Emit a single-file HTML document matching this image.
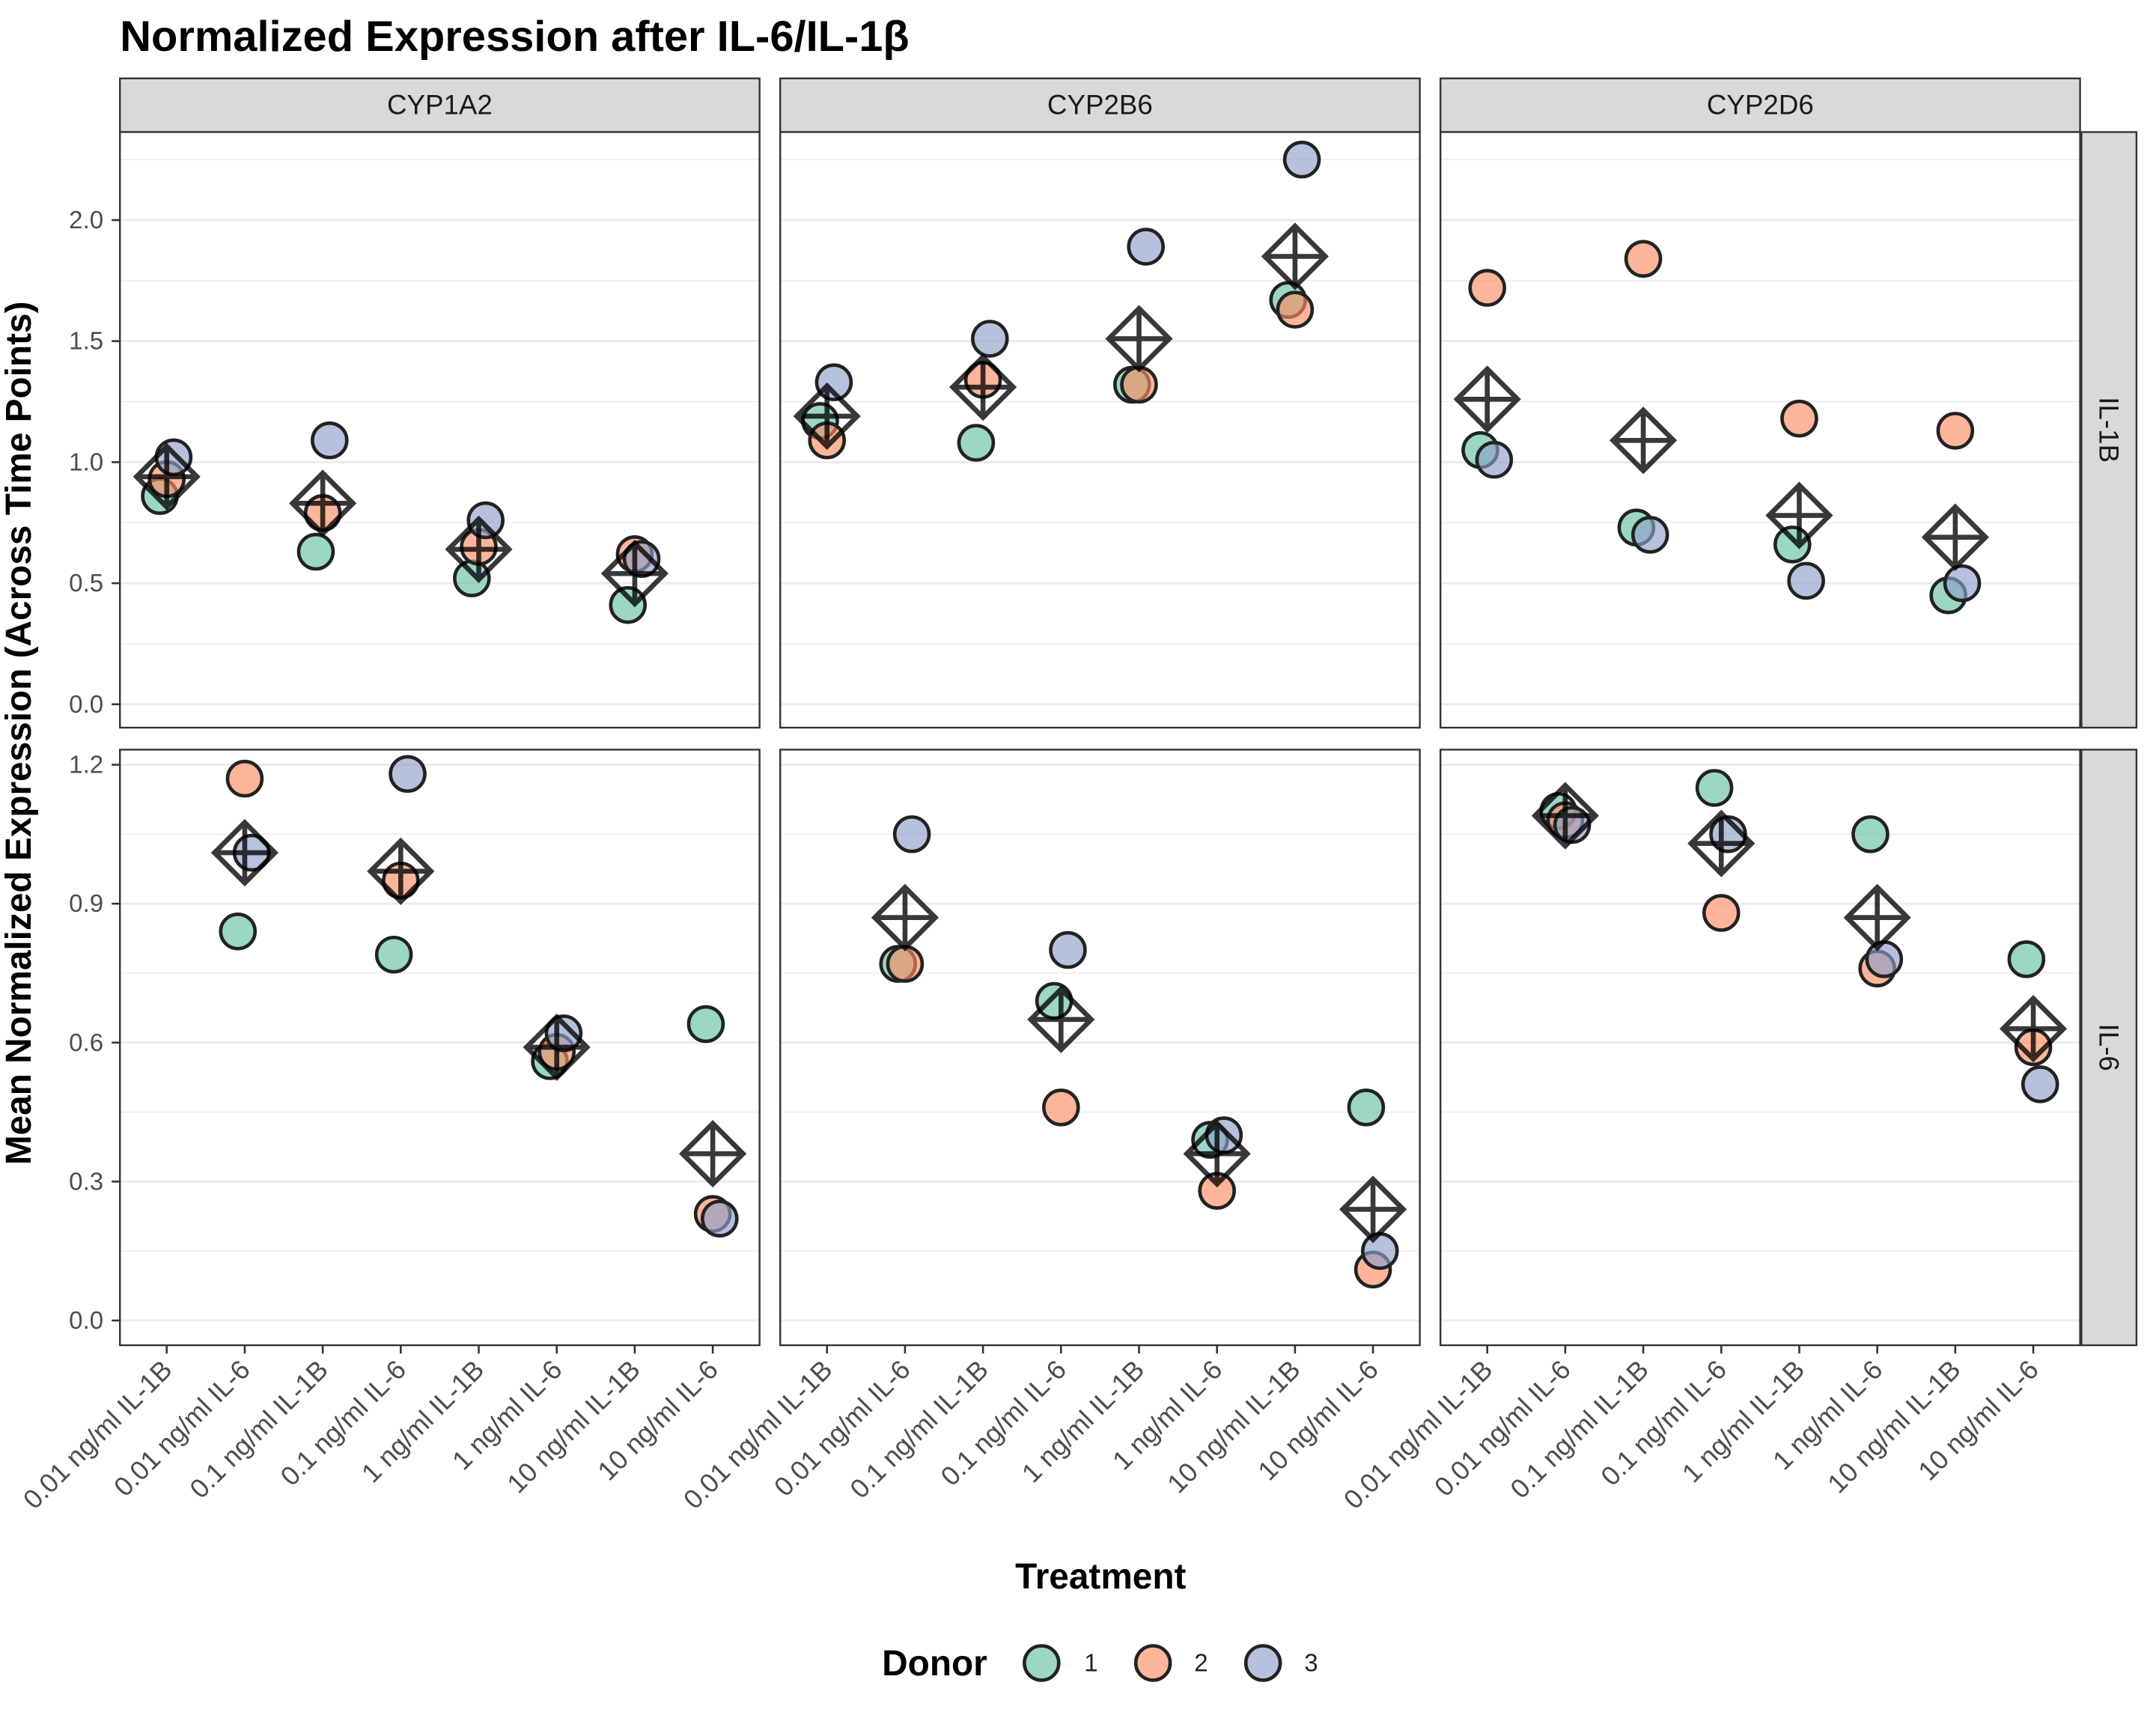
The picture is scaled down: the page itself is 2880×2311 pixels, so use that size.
<!DOCTYPE html>
<html><head><meta charset="utf-8"><style>
html,body{margin:0;padding:0;background:#fff}
svg text{font-family:"Liberation Sans",Arial,sans-serif}
</style></head><body>
<svg id="chart" width="2880" height="2306" viewBox="0 0 1567 1255" xmlns="http://www.w3.org/2000/svg">
<text x="87" y="37" font-size="31.5" font-weight="bold" fill="#000">Normalized Expression after IL-6/IL-1β</text>
<g id="panels"></g>
<text x="800" y="1155" font-size="26" font-weight="bold" text-anchor="middle">Treatment</text>
<text transform="translate(22,533) rotate(-90)" font-size="26" font-weight="bold" text-anchor="middle">Mean Normalized Expression (Across Time Points)</text>
<g>
<text x="641" y="1218" font-size="26" font-weight="bold">Donor</text>
<circle cx="757" cy="1209" r="12.5" fill="#66c2a5" fill-opacity="0.65" stroke="#222" stroke-width="2.5"/>
<text x="788" y="1215" font-size="18" fill="#222">1</text>
<circle cx="838" cy="1209" r="12.5" fill="#fc8d62" fill-opacity="0.65" stroke="#222" stroke-width="2.5"/>
<text x="868" y="1215" font-size="18" fill="#222">2</text>
<circle cx="918" cy="1209" r="12.5" fill="#8da0cb" fill-opacity="0.65" stroke="#222" stroke-width="2.5"/>
<text x="948" y="1215" font-size="18" fill="#222">3</text>
</g>
</svg>
<script>
const categories=["0.01 ng/ml IL-1B","0.01 ng/ml IL-6","0.1 ng/ml IL-1B","0.1 ng/ml IL-6","1 ng/ml IL-1B","1 ng/ml IL-6","10 ng/ml IL-1B","10 ng/ml IL-6"];
const genes=["CYP1A2","CYP2B6","CYP2D6"];
const rows=["IL-1B","IL-6"];
const row1Ticks=[0,0.5,1.0,1.5,2.0];
const row1TickLabels=["0.0","0.5","1.0","1.5","2.0"];
const row2Ticks=[0,0.3,0.6,0.9,1.2];
const row2TickLabels=["0.0","0.3","0.6","0.9","1.2"];
const il1bCats=[0,2,4,6];
const il6Cats=[1,3,5,7];
const il1b_CYP1A2=[[0.86,0.93,1.02],[0.63,0.79,1.09],[0.52,0.65,0.76],[0.41,0.62,0.60]];
const il1b_CYP2B6=[[1.17,1.09,1.33],[1.08,1.34,1.51],[1.32,1.32,1.89],[1.67,1.63,2.25]];
const il1b_CYP2D6=[[1.05,1.72,1.01],[0.73,1.84,0.70],[0.66,1.18,0.51],[0.45,1.13,0.50]];
const il6_CYP1A2=[[0.84,1.17,1.01],[0.79,0.95,1.18],[0.56,0.58,0.62],[0.64,0.23,0.22]];
const il6_CYP2B6=[[0.77,0.77,1.05],[0.69,0.46,0.80],[0.39,0.28,0.40],[0.46,0.11,0.15]];
const il6_CYP2D6=[[1.10,1.08,1.07],[1.15,0.88,1.05],[1.05,0.76,0.78],[0.78,0.59,0.51]];
const il1bMeans=[[0.94,0.83,0.64,0.54],[1.19,1.31,1.51,1.85],[1.26,1.09,0.78,0.69]];
const il6Means=[[1.01,0.97,0.59,0.36],[0.87,0.65,0.36,0.24],[1.09,1.03,0.87,0.63]];

const NS="http://www.w3.org/2000/svg";
const root=document.getElementById('panels');
function mk(tag,attrs,parent){const e=document.createElementNS(NS,tag);for(const k in attrs)e.setAttribute(k,attrs[k]);(parent||root).appendChild(e);return e;}
const colors=["#66c2a5","#fc8d62","#8da0cb"];
const panelX=[87,567,1047],panelW=465;
const rowY=[96,545],panelH=433;
const jit=[-5,0,5];
function xScale(col,i){return panelX[col]+(0.6+i)*panelW/8.2;}
function yScale(row,v){return row===0?512-v*176:960-v*336.7;}
const il1bData=[il1b_CYP1A2,il1b_CYP2B6,il1b_CYP2D6];
const il6Data=[il6_CYP1A2,il6_CYP2B6,il6_CYP2D6];

for(let c=0;c<3;c++){
  const s=mk('rect',{x:panelX[c],y:57,width:panelW,height:39,fill:'#d9d9d9',stroke:'#333','stroke-width':1.3});
  
  const t=mk('text',{x:panelX[c]+panelW/2,y:83,'font-size':20,'text-anchor':'middle',fill:'#1a1a1a'});t.textContent=genes[c];
  
}
for(let r=0;r<2;r++){
  const s=mk('rect',{x:1513,y:rowY[r],width:40,height:panelH,fill:'#d9d9d9',stroke:'#333','stroke-width':1.3});
  
  const cy=rowY[r]+panelH/2;
  const t=mk('text',{x:1533,y:cy,'font-size':20,'text-anchor':'middle',transform:`rotate(90,1533,${cy}) translate(0,7)`,fill:'#1a1a1a'});t.textContent=rows[r];
  
}
for(let r=0;r<2;r++){
  const ticks=r===0?row1Ticks:row2Ticks, labels=r===0?row1TickLabels:row2TickLabels;
  const step=ticks[1]-ticks[0];
  for(let c=0;c<3;c++){
    const g=mk('g',{});
    
    mk('rect',{x:panelX[c],y:rowY[r],width:panelW,height:panelH,fill:'#fff'},g);
    for(let i=0;i<ticks.length;i++){
      const ym=yScale(r,ticks[i]+step/2);
      if(ym>rowY[r]) mk('line',{x1:panelX[c],x2:panelX[c]+panelW,y1:ym,y2:ym,stroke:'#ebebeb','stroke-width':0.8},g);
      const y=yScale(r,ticks[i]);
      mk('line',{x1:panelX[c],x2:panelX[c]+panelW,y1:y,y2:y,stroke:'#ebebeb','stroke-width':1.6},g);
    }
    const data=r===0?il1bData[c]:il6Data[c], cats=r===0?il1bCats:il6Cats, means=r===0?il1bMeans[c]:il6Means[c];
    for(let k=0;k<4;k++){
      for(let d=0;d<3;d++){
        const p=mk('circle',{cx:xScale(c,cats[k])+jit[d],cy:yScale(r,data[k][d]),r:12.5,fill:colors[d],'fill-opacity':0.65,stroke:'#222','stroke-width':2.5},g);
        
      }
    }
    for(let k=0;k<4;k++){
      const x=xScale(c,cats[k]),y=yScale(r,means[k]),h=22;
      const m=mk('path',{d:`M${x},${y-h}L${x+h},${y}L${x},${y+h}L${x-h},${y}Z M${x},${y-h}V${y+h} M${x-h},${y}H${x+h}`,fill:'none',stroke:'#000','stroke-opacity':0.78,'stroke-width':3.6},g);
      
    }
    mk('rect',{x:panelX[c],y:rowY[r],width:panelW,height:panelH,fill:'none',stroke:'#333','stroke-width':1.3},g);
    if(c===0){
      for(let i=0;i<ticks.length;i++){
        const y=yScale(r,ticks[i]);
        mk('line',{x1:panelX[0]-6,x2:panelX[0],y1:y,y2:y,stroke:'#333','stroke-width':1.4},g);
        const t=mk('text',{x:panelX[0]-12,y:y+6,'font-size':18,'text-anchor':'end',fill:'#4d4d4d'},g);t.textContent=labels[i];
        
      }
    }
    if(r===1){
      for(let i=0;i<categories.length;i++){
        const x=xScale(c,i);
        mk('line',{x1:x,x2:x,y1:978,y2:984,stroke:'#333','stroke-width':1.4},g);
        const t=mk('text',{x:x+5,y:997,'font-size':19.5,'text-anchor':'end',fill:'#4d4d4d',transform:`rotate(-45,${x+5},997)`},g);t.textContent=categories[i];
        
      }
    }
  }
}
</script>
</body></html>
